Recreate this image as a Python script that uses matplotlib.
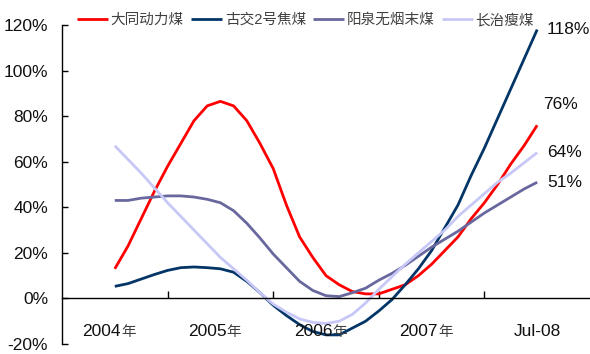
import numpy as np
import matplotlib.pyplot as plt
from matplotlib.ticker import FixedLocator

LATIN = ['Liberation Sans', 'Noto Sans CJK SC']
CJK = ['Noto Sans CJK SC', 'DejaVu Sans']

# price change vs. same period, sampled every 1/8 of a category
x = np.linspace(0, 4, 33)

datong = [13, 23, 35, 47, 58, 68, 78, 84.5, 86.5, 84.5, 78, 68, 57, 41, 27, 18,
          10, 6, 3, 2, 2, 4, 6, 10, 15, 21, 27, 35, 42, 50, 59, 67, 76]
gujiao = [5.3, 6.5, 8.5, 10.5, 12.3, 13.5, 13.8, 13.5, 13, 11.5, 7.5, 2.5, -3,
          -7.5, -11.5, -14.5, -16, -16, -13, -10, -5.5, -0.5, 6, 13, 21, 31,
          41, 54, 66, 79, 92, 105, 118]
yangquan = [43, 43, 44, 44.5, 45, 45, 44.5, 43.5, 42, 38.5, 33, 26.5, 19.5,
            13.5, 7.5, 3.5, 1.2, 0.8, 2.5, 4.5, 8, 11, 14.5, 18.5, 22.5, 26,
            29.5, 33.5, 37.5, 41, 44.5, 48, 51]
changzhi = [67, 61, 55, 48.5, 42, 36, 30, 24, 18, 13, 8, 2.5, -2.5, -6, -9,
            -10.5, -11, -10, -7, -2, 4, 9.5, 15, 20, 25, 30, 36, 41, 46, 51,
            55, 59.5, 64]

series_names = ['大同动力煤', '古交2号焦煤', '阳泉无烟末煤', '长治瘦煤']
series_colors = ['#ff0000', '#033567', '#68689e', '#c8c8f8']
end_labels = ['76%', '118%', '51%', '64%']
end_offsets = [(4, 15), (7, 0), (7, 0), (7, 0)]

year_labels = ['2004', '2005', '2006', '2007']
last_label = 'Jul-08'
yticks = [-20, 0, 20, 40, 60, 80, 100, 120]

fig = plt.figure(figsize=(5.9, 3.54), dpi=100)
ax = fig.add_axes([62 / 590, 10 / 354, 528 / 590, 319 / 354])

lines = []
for vals, name, col, lab, off in zip([datong, gujiao, yangquan, changzhi],
                                     series_names, series_colors,
                                     end_labels, end_offsets):
    ln, = ax.plot(x, vals, color=col, lw=2.0, label=name,
                  solid_joinstyle='round', solid_capstyle='butt')
    lines.append(ln)
    ax.annotate(lab, xy=(x[-1], vals[-1]), xytext=off,
                textcoords='offset points', ha='left', va='center',
                fontsize=12.5, family=LATIN, color='#111111')

ax.set_xlim(-0.5, 4.5)
ax.set_ylim(-20, 120)

for s in ['top', 'right']:
    ax.spines[s].set_visible(False)
ax.spines['bottom'].set_position(('data', 0))
ax.spines['bottom'].set_linewidth(1.0)
ax.spines['left'].set_linewidth(1.0)

ax.set_yticks(yticks)
ax.set_yticklabels([f'{v}%' for v in yticks], family=LATIN, fontsize=12.5,
                   color='#111111')
ax.tick_params(axis='y', direction='in', length=4, width=1.0, pad=10)

# category boundaries get small upward ticks, labels drawn separately
ax.xaxis.set_major_locator(FixedLocator([]))
ax.xaxis.set_minor_locator(FixedLocator([0.5, 1.5, 2.5, 3.5]))
ax.tick_params(axis='x', which='minor', direction='in', length=5, width=1.0)

for i, yr in enumerate(year_labels):
    ax.annotate(yr, xy=(i, -16.3), xytext=(4.5, 0), textcoords='offset points',
                ha='right', va='baseline', fontsize=12.5, family=LATIN,
                color='#111111')
    ax.annotate('年', xy=(i, -16.3), xytext=(4.5, -0.5),
                textcoords='offset points', ha='left', va='baseline',
                fontsize=10.5, family=CJK, color='#404040')
ax.text(4, -16.3, last_label, ha='center', va='baseline', fontsize=12.5,
        family=LATIN, color='#111111')

fig.legend(handles=lines, loc='upper center', bbox_to_anchor=(0.518, 1.0),
           ncol=4, frameon=False, handlelength=2.1, handletextpad=0.2,
           columnspacing=0.5, prop={'family': LATIN, 'size': 10.5},
           labelcolor='#404040')

fig.savefig('out.png', dpi=100)
